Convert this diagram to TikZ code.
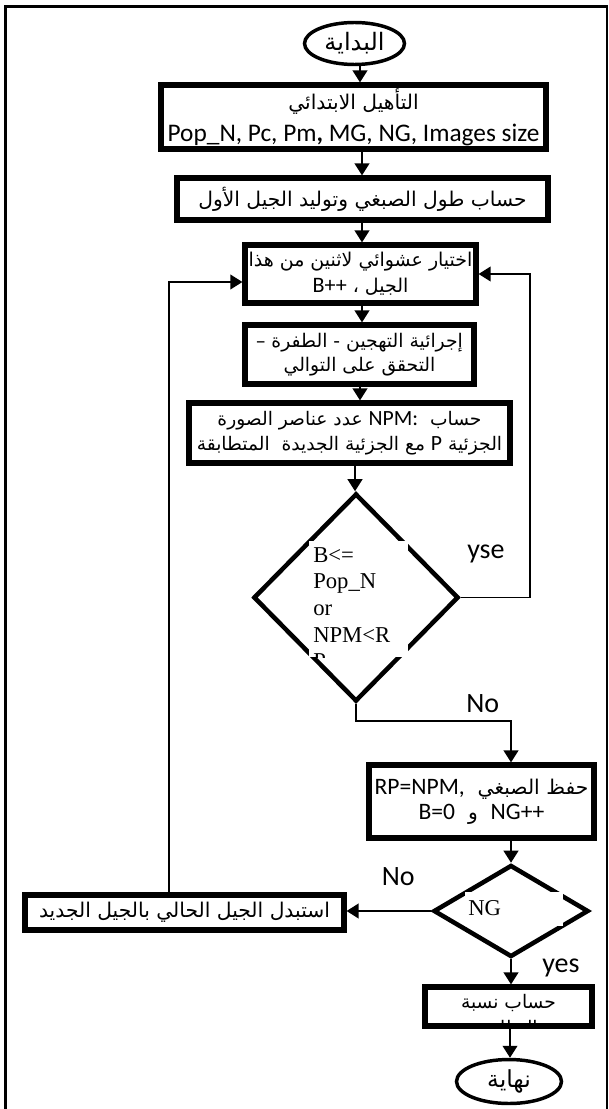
\documentclass[tikz,border=0pt]{standalone}
\usepackage{fontspec}
\setmainfont{Carlito}
\newfontfamily\arabicfont[Script=Arabic,Scale=0.8]{DejaVu Sans}
\newfontfamily\latf[Scale=0.93]{Carlito}
\newfontfamily\serifx{Liberation Serif}
\TeXXeTstate=1
\usetikzlibrary{shapes.geometric,arrows.meta}
\newcommand\artxt[1]{{\arabicfont\beginR #1\endR}}
\newcommand\lat[1]{{\latf #1}}
\newcommand\tabl[1]{\begin{tabular}[t]{@{}l@{}}#1\end{tabular}}
\newcommand\tabc[1]{\begin{tabular}[t]{@{}c@{}}#1\end{tabular}}
\begin{document}
\begin{tikzpicture}[x=0.75pt,y=-0.75pt,
  box/.style={draw,line width=3.9pt,fill=white,inner sep=0pt,align=center,font=\fontsize{19}{24}\selectfont},
  sz/.style 2 args={minimum width=#1*0.75pt,minimum height=#2*0.75pt},
  term/.style={ellipse,draw,line width=2.6pt,fill=white,inner sep=0pt,font=\fontsize{22.5}{24}\selectfont},
  dec/.style={diamond,draw,line width=3.4pt,inner sep=0pt},
  arr/.style={line width=1.5pt,-{Triangle[length=9pt,width=11pt]}},
  fbarr/.style={line width=1.2pt,-{Triangle[length=9pt,width=11pt]}},
  lbl/.style={font=\fontsize{21}{24}\selectfont,inner sep=0pt},
  dtext/.style={font=\serifx\fontsize{17}{20}\selectfont,inner sep=0pt}
]
\clip (0,0) rectangle (609,1109);
\fill[white] (0,0) rectangle (609,1109);
\draw[line width=1.6pt] (5.5,1120) -- (5.5,6.5) -- (607,6.5) -- (607,1120);

% columns for connectors
\coordinate (c1) at (360,0);
\coordinate (c2) at (362,0);
\coordinate (c3) at (355,0);
\coordinate (c4) at (511,0);
\coordinate (c5) at (510,0);
\coordinate (fl) at (169,282);
\coordinate (fr) at (530,0);
\coordinate (nj) at (0,721);

\node[term,sz={100}{42}] (start) at (354.5,43.5) {\artxt{البداية}};
\node[box,sz={385}{64}] (init) at (353.5,117) {\artxt{التأهيل الابتدائي}\\Pop\_N, Pc, Pm\textbf{,} MG, NG, Images size};
\node[box,sz={371}{42}] (len) at (362.5,199) {\artxt{حساب طول الصبغي وتوليد الجيل الأول}};
\node[box,sz={231}{58},font=\fontsize{17.8}{19.5}\selectfont] (sel) at (360.5,274) {\artxt{اختيار عشوائي لاثنين من هذا}\\\artxt{الجيل ، \lat{B++}}};
\node[box,sz={229}{59},font=\fontsize{17.6}{18}\selectfont] (cross) at (359.5,354.5) {\artxt{إجرائية التهجين - الطفرة –}\\\artxt{التحقق على التوالي}};
\node[box,sz={321}{60},font=\fontsize{17.5}{19}\selectfont] (npm) at (349.5,433) {\artxt{حساب~\ \lat{NPM:} عدد عناصر الصورة}\\\artxt{الجزئية \lat{P} مع الجزئية الجديدة~\ المتطابقة}};
\node[dec,sz={205}{208}] (cond) at (356,597.5) {};
\node[box,sz={225}{73},font=\fontsize{19}{19}\selectfont] (save) at (481.5,801.5) {\artxt{حفظ الصبغي~\ \lat{RP=NPM,}}\\\artxt{\lat{NG++}~\ و~\ \lat{B=0}}};
\node[dec,sz={155}{92}] (ng) at (511,911) {};
\node[box,sz={319}{35}] (repl) at (184.5,912.5) {\artxt{استبدل الجيل الحالي بالجيل الجديد}};
\node[box,sz={167}{39}] (rate) at (508.5,1006.5) {};
\node[term,sz={105}{44},font=\fontsize{22}{24}\selectfont] (stop) at (509,1081.5) {\artxt{نهاية}};

% texts partly hidden
\begin{scope}
\fill[white] (309,541) rectangle (408,657);
\clip (309,541) rectangle (408,657);
\node[dtext,anchor=base west] (condtxt) at (313,562) {\tabl{B<=\\Pop\_N\\or\\NPM<R\\P}};
\end{scope}
\fill[white] (465,892) rectangle (563,926);
\node[dtext,anchor=base west] (ngtxt) at (468,915) {NG};
\begin{scope}
\clip (425,988) rectangle (592,1024);
\node[inner sep=0pt,anchor=base,font=\fontsize{17.5}{19.5}\selectfont] (ratetxt) at (508.5,1008) {\tabc{\artxt{حساب نسبة}\\\artxt{التطابق}}};
\end{scope}

% connectors
\draw[arr] (start.south -| c1) -- (init.north -| c1);
\draw[arr] (init.south -| c2) -- (len.north -| c2);
\draw[arr] (len.south -| c2) -- (sel.north -| c2);
\draw[arr] (sel.south -| c2) -- (cross.north -| c2);
\draw[arr] (cross.south -| c1) -- (npm.north -| c1);
\draw[arr] (npm.south -| c3) -- (cond.north -| c3);
\draw[arr] (cond.south) -- (cond.south |- nj) -| (save.north -| c4);
\draw[fbarr] (cond.east) -- (cond.east -| fr) -- (fr |- sel.east) -- (sel.east);
\draw[arr] (save.south -| c4) -- (ng.north);
\draw[arr] (ng.west) -- (repl.east |- ng.west);
\draw[fbarr] (repl.north -| fl) -- (fl) -- (sel.west |- fl);
\draw[arr] (ng.south) -- (ng.south |- rate.north);
\draw[arr] (rate.south -| c5) -- (stop.north -| c5);

% labels
\node[lbl,anchor=base west] (yse) at (467,558) {yse};
\node[lbl,anchor=base west] (no1) at (466,712) {No};
\node[lbl,anchor=base east] (no2) at (415,885) {No};
\node[lbl,anchor=base west] (yes) at (542,972) {yes};
\end{tikzpicture}
\end{document}
